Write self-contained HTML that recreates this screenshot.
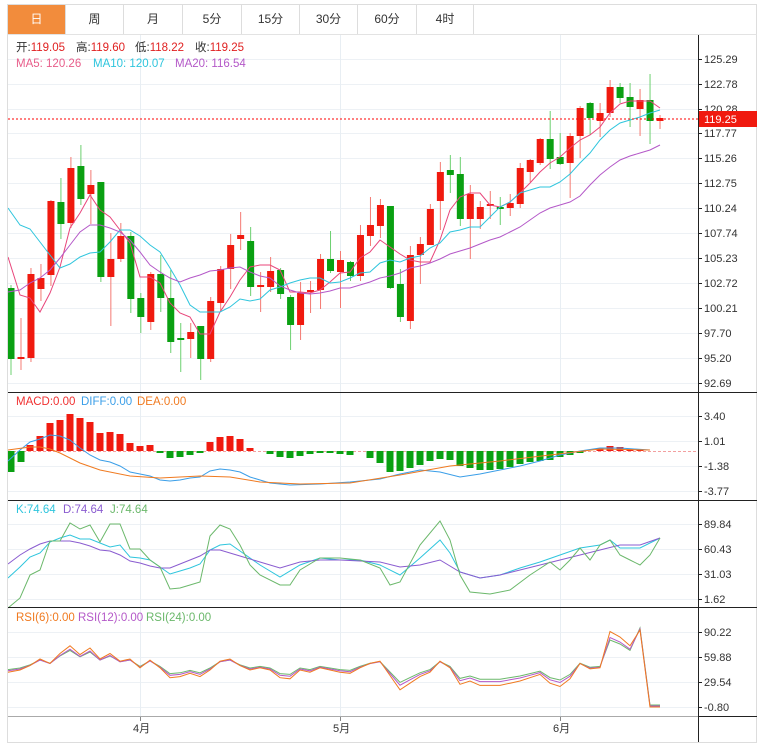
<!DOCTYPE html>
<html><head><meta charset="utf-8">
<style>
*{margin:0;padding:0;box-sizing:border-box}
body{width:765px;height:750px;background:#fff;font-family:"Liberation Sans","Noto Sans CJK SC",sans-serif;overflow:hidden;position:relative}
.tabs{position:absolute;left:7px;top:4px;height:31px;width:750px;border:1px solid #ddd;border-bottom:1px solid #e3e3e3}
.tab{position:absolute;top:0;height:29px;line-height:29px;text-align:center;font-size:12px;color:#333;border-right:1px solid #ddd}
svg{position:absolute;left:0;top:0}
</style></head><body>
<div class="tabs">
<div class="tab" style="left:0;width:58px;background:#f28c3c;color:#fff">日</div>
<div class="tab" style="left:58px;width:58px">周</div>
<div class="tab" style="left:116px;width:59px">月</div>
<div class="tab" style="left:175px;width:59px">5分</div>
<div class="tab" style="left:234px;width:58px">15分</div>
<div class="tab" style="left:292px;width:58px">30分</div>
<div class="tab" style="left:350px;width:59px">60分</div>
<div class="tab" style="left:409px;width:57px">4时</div>
</div>
<svg id="s" width="765" height="750" viewBox="0 0 765 750" font-family="Liberation Sans, Noto Sans CJK SC, sans-serif" font-size="11">
<g id="grid"></g>
<g id="plot"></g>
<line x1="7.5" y1="35" x2="7.5" y2="742" stroke="#ddd"/>
<line x1="756.5" y1="35" x2="756.5" y2="742" stroke="#ddd"/>
<line x1="7" y1="742.5" x2="757" y2="742.5" stroke="#ddd"/>
<line x1="698.5" y1="35" x2="698.5" y2="742" stroke="#222"/>
<line x1="8" y1="392.5" x2="757" y2="392.5" stroke="#222"/>
<line x1="8" y1="500.5" x2="757" y2="500.5" stroke="#222"/>
<line x1="8" y1="607.5" x2="757" y2="607.5" stroke="#222"/>
<line x1="8" y1="716.5" x2="698" y2="716.5" stroke="#aaa"/>
<line x1="698" y1="716.5" x2="757" y2="716.5" stroke="#222"/>
<g fill="#333" font-size="11">
<text x="704" y="63">125.29</text><text x="704" y="88">122.78</text><text x="704" y="113">120.28</text>
<text x="704" y="137">117.77</text><text x="704" y="162">115.26</text><text x="704" y="187">112.75</text>
<text x="704" y="212">110.24</text><text x="704" y="237">107.74</text><text x="704" y="262">105.23</text>
<text x="704" y="287">102.72</text><text x="704" y="312">100.21</text><text x="704" y="337">97.70</text>
<text x="704" y="362">95.20</text><text x="704" y="387">92.69</text>
<text x="704" y="420">3.40</text><text x="704" y="445">1.01</text><text x="704" y="470">-1.38</text><text x="704" y="495">-3.77</text>
<text x="704" y="528">89.84</text><text x="704" y="553">60.43</text><text x="704" y="578">31.03</text><text x="704" y="603">1.62</text>
<text x="704" y="636">90.22</text><text x="704" y="661">59.88</text><text x="704" y="686">29.54</text><text x="704" y="711">-0.80</text>
<text x="133" y="732">4月</text><text x="333" y="732">5月</text><text x="553" y="732">6月</text>
</g>
<g font-size="11">
<line x1="8" y1="119" x2="698" y2="119" stroke="#f00" stroke-dasharray="2,2"/>
<rect x="699" y="111" width="58" height="16" fill="#f01a0f"/>
<text x="704" y="123" fill="#fff">119.25</text>
</g>
<g font-size="11.5">
<text y="51" fill="#333"><tspan x="16">开:</tspan><tspan fill="#e02020">119.05</tspan><tspan x="76">高:</tspan><tspan fill="#e02020">119.60</tspan><tspan x="135">低:</tspan><tspan fill="#e02020">118.22</tspan><tspan x="195">收:</tspan><tspan fill="#e02020">119.25</tspan></text>
<text y="67"><tspan x="16" fill="#e85d8a">MA5: 120.26</tspan><tspan x="93" fill="#2ec5dd">MA10: 120.07</tspan><tspan x="175" fill="#b458c8">MA20: 116.54</tspan></text>
<text y="405"><tspan x="16" fill="#f03030">MACD:0.00</tspan><tspan x="81" fill="#3a9ee8">DIFF:0.00</tspan><tspan x="137" fill="#f07a20">DEA:0.00</tspan></text>
<text y="513"><tspan x="16" fill="#2ec5dd">K:74.64</tspan><tspan x="63" fill="#8a5cd0">D:74.64</tspan><tspan x="110" fill="#6bb86b">J:74.64</tspan></text>
<text y="621"><tspan x="16" fill="#f07a20">RSI(6):0.00</tspan><tspan x="78" fill="#b458c8">RSI(12):0.00</tspan><tspan x="146" fill="#6bb86b">RSI(24):0.00</tspan></text>
</g>
</svg>
<script>
var NS="http://www.w3.org/2000/svg";
function el(p,t,a){var e=document.createElementNS(NS,t);for(var k in a)e.setAttribute(k,a[k]);p.appendChild(e);return e;}
var G=document.getElementById('grid'),P=document.getElementById('plot');
[59,84,109,133,158,183,208,233,258,283,308,333,358,383,416,441,466,491,524,549,574,599,632,657,682,707].forEach(function(y){el(G,'line',{x1:8,x2:698,y1:y+.5,y2:y+.5,stroke:'#edf1f5'});el(G,'line',{x1:698,x2:702,y1:y+.5,y2:y+.5,stroke:'#222'});});
[140,340,560].forEach(function(x){el(G,'line',{x1:x+.5,x2:x+.5,y1:35,y2:716,stroke:'#e8eef3'});el(G,'line',{x1:x+.5,x2:x+.5,y1:716,y2:721,stroke:'#888'});});
var C=[["G",288,359,285,375],["R",357,359,318,370],["R",274,358,268,362],["R",278,289,264,301],["R",201,275,200,286],["G",202,224,178,239],["R",168,223,157,228],["G",166,199,145,205],["R",185,194,170,224],["G",182,277,182,282],["R",259,277,233,326],["R",236,259,223,262],["G",236,299,232,313],["G",298,317,293,333],["R",274,322,272,330],["G",274,298,255,312],["G",298,342,270,353],["G",338,340,323,372],["R",332,339,323,358],["G",326,359,326,380],["R",301,359,297,362],["R",269,303,266,312],["R",245,269,234,289],["R",235,239,212,250],["G",241,287,227,296],["R",285,287,272,312],["R",271,287,257,292],["G",270,294,268,299],["G",297,325,295,350],["R",293,325,282,340],["R",290,292,281,313],["R",259,290,254,309],["G",259,271,231,273],["R",260,272,251,308],["G",262,276,261,281],["R",235,276,225,281],["R",225,236,197,246],["R",205,226,199,238],["G",206,288,206,289],["G",284,317,269,322],["R",255,321,246,329],["R",244,255,237,284],["R",209,245,204,245],["R",172,201,162,230],["G",170,175,155,193],["G",174,219,157,226],["R",194,219,185,259],["R",207,219,201,229],["R",204,206,191,219],["G",207,209,197,225],["R",203,208,194,216],["R",168,204,163,208],["R",160,172,159,182],["R",139,163,138,165],["G",139,159,111,169],["G",157,164,133,165],["R",136,163,133,198],["R",108,136,106,158],["G",103,118,102,135],["R",113,121,103,137],["R",87,113,80,117],["G",87,98,83,103],["G",97,107,83,127],["R",100,109,89,136],["G",100,121,74,144],["R",118,121,115,129]];
C.forEach(function(c,i){var x=11+i*9.985;var col=c[0]=="R"?"#f01a0f":"#0aa012",wc=c[0]=="R"?"#f47a72":"#6cd070";
el(P,'line',{x1:x,x2:x,y1:c[3],y2:c[4],stroke:wc,'stroke-width':1});
var h=Math.max(c[2]-c[1],1.5);el(P,'rect',{x:x-3.5,y:c[1],width:7,height:h,fill:col});});
function line(pts,col){var d=pts.map(function(p,i){return (i?'L':'M')+p[0]+','+p[1];}).join('');el(P,'path',{d:d,fill:'none',stroke:col,'stroke-width':1});}
line([[8,257],[20,295],[30,298],[40,312],[50,293],[60,267],[70,228],[80,213],[90,195],[100,210],[110,217],[120,230],[130,243],[140,277],[150,277],[160,283],[170,303],[180,313],[190,317],[200,334],[210,334],[220,312],[230,297],[240,280],[250,267],[260,265],[270,265],[280,270],[290,292],[300,292],[310,293],[320,290],[330,282],[340,273],[350,272],[360,258],[370,252],[380,240],[390,247],[400,254],[410,260],[420,262],[430,262],[440,240],[450,210],[460,197],[470,193],[480,193],[490,205],[500,207],[510,202],[520,193],[530,183],[540,172],[550,163],[560,157],[570,148],[580,140],[590,135],[600,127],[610,113],[620,104],[630,101],[640,101],[650,101],[660,108]],'#e8457a');
line([[8,208],[20,225],[30,229],[40,242],[50,255],[60,268],[70,264],[80,257],[90,253],[100,252],[110,242],[120,230],[130,230],[140,236],[150,245],[160,252],[170,268],[180,285],[190,305],[200,312],[210,312],[220,312],[230,307],[240,299],[250,301],[260,299],[270,290],[280,287],[290,283],[300,280],[310,278],[320,278],[330,283],[340,282],[350,278],[360,273],[370,272],[380,263],[390,260],[400,262],[410,258],[420,256],[430,248],[440,243],[450,232],[460,230],[470,227],[480,227],[490,217],[500,207],[510,202],[520,193],[530,190],[540,187],[550,187],[560,182],[570,174],[580,163],[590,153],[600,140],[610,130],[620,123],[630,120],[640,117],[650,113],[660,110]],'#2ec5dd');
line([[8,292],[20,290],[30,283],[40,278],[50,270],[60,258],[70,245],[80,232],[90,225],[100,225],[110,228],[120,232],[130,240],[140,252],[150,265],[160,272],[170,278],[180,282],[190,278],[200,275],[210,271],[220,270],[230,268],[240,267],[250,272],[260,276],[270,278],[280,286],[290,290],[300,293],[310,294],[320,293],[330,291],[340,288],[350,288],[360,285],[370,282],[380,278],[390,276],[400,273],[410,268],[420,266],[430,263],[440,259],[450,254],[460,251],[470,248],[480,244],[490,240],[500,237],[510,232],[520,227],[530,220],[540,213],[550,208],[560,205],[570,202],[580,196],[590,185],[600,175],[610,167],[620,160],[630,156],[640,153],[650,150],[660,145]],'#b458c8');
el(P,'line',{x1:8,x2:698,y1:451.5,y2:451.5,stroke:'#f3a0a0','stroke-dasharray':'3,2'});
var M={11:472,21:462,30:445,40:436,50:423,60:420,70:414,80:418,90:422,100:433,110:432,120:434,130:443,140:446,150:445,160:453,170:458,180:457,190:455,200:453,210:442,220:437,230:436,240:439,250:448,270:454,280:457,290:458,300:456,310:454,320:453,330:453,340:454,350:455,370:458,380:463,390:472,400:471,410:468,420:465,430:461,440:459,450:460,460:466,470:468,480:470,490:470,500:469,510:467,520:464,530:462,540:461,550:460,560:457,570:455,580:453,600:448,610:446,620:447,630:449,640:450};
for(var k in M){var x=+k,y=M[k];var up=y<451;el(P,'rect',{x:x-3.5,y:up?y:451,width:7,height:Math.abs(y-451)||1,fill:up?'#f01a0f':'#0aa012'});}
line([[8,461],[20,450],[30,442],[40,439],[50,435],[60,436],[70,440],[80,448],[90,455],[100,460],[110,462],[120,466],[130,472],[140,474],[150,476],[160,480],[170,481],[180,480],[190,478],[200,477],[210,471],[220,469],[230,470],[240,472],[250,477],[270,483],[290,485],[320,484],[350,482],[380,479],[400,474],[420,470],[440,472],[460,477],[480,474],[500,470],[520,466],[540,461],[560,455],[580,451],[600,448],[620,448],[650,450]],'#3a9ee8');
line([[8,450],[30,447],[40,447],[50,449],[60,453],[70,458],[80,463],[100,470],[130,476],[160,478],[200,476],[230,477],[260,482],[300,484],[350,483],[400,475],[450,466],[500,461],[550,455],[600,449],[650,450]],'#f07a20');
line([[8,578],[20,567],[30,557],[40,553],[50,542],[60,538],[70,535],[80,539],[90,539],[100,543],[110,547],[120,545],[130,557],[140,558],[150,560],[160,567],[170,574],[180,571],[190,568],[200,564],[210,550],[220,545],[230,544],[240,551],[260,565],[280,577],[300,565],[320,558],[340,560],[360,560],[380,565],[400,575],[420,558],[440,540],[450,553],[460,572],[480,578],[500,575],[520,568],[540,562],[560,555],[580,548],[600,545],[610,540],[620,548],[640,548],[660,538]],'#2ec5dd');
line([[8,564],[20,555],[30,549],[40,544],[50,541],[60,541],[70,541],[80,543],[90,546],[100,550],[110,551],[120,555],[130,561],[140,563],[150,566],[160,568],[170,568],[180,564],[190,560],[200,556],[210,550],[220,550],[230,553],[240,556],[260,562],[280,568],[300,562],[320,560],[340,560],[360,561],[380,562],[400,567],[420,565],[440,560],[460,572],[480,578],[500,575],[520,570],[540,565],[560,560],[580,555],[600,550],[620,545],[640,545],[660,538]],'#8a5cd0');
line([[8,608],[20,598],[30,575],[40,570],[50,541],[60,541],[70,523],[80,529],[90,525],[100,542],[110,524],[120,524],[130,549],[140,549],[150,560],[160,567],[170,589],[180,588],[190,585],[200,582],[210,536],[220,525],[230,529],[240,545],[250,565],[260,575],[280,585],[290,585],[300,570],[320,558],[340,558],[360,560],[380,568],[390,585],[400,582],[420,545],[440,521],[450,540],[460,575],[470,592],[490,594],[510,590],[530,575],[550,562],[560,570],[570,560],[580,548],[590,560],[600,545],[610,540],[620,555],[630,560],[640,565],[650,555],[660,538]],'#6bb86b');
var R=[[8,672],[20,670],[30,666],[40,660],[50,664],[60,655],[70,648],[80,656],[90,650],[100,660],[110,655],[120,662],[130,660],[140,668],[150,661],[160,668],[170,677],[180,676],[190,673],[200,676],[210,670],[220,662],[230,660],[240,666],[250,670],[260,668],[270,670],[280,677],[290,678],[300,670],[310,672],[320,668],[330,670],[340,672],[350,673],[360,668],[370,664],[380,662],[390,675],[400,688],[410,682],[420,676],[430,672],[440,662],[450,668],[460,683],[470,680],[480,684],[490,684],[500,684],[510,682],[520,680],[530,677],[540,674],[550,682],[560,685],[570,678],[580,664],[590,669],[600,668],[610,635],[620,640],[630,648],[640,630],[650,707],[660,707]];
function off(a,f){return R.map(function(p){var y=p[1];if(p[0]>=640)return[p[0],y];return [p[0],670+(y-670)*f];});}
line(off(R,0.8).map(function(p){return[p[0],p[1]-2];}),'#6bb86b');
line(off(R,0.9).map(function(p){return[p[0],p[1]-1];}),'#b458c8');
line(off(R,1.1),'#f07a20');
</script>
</body></html>
